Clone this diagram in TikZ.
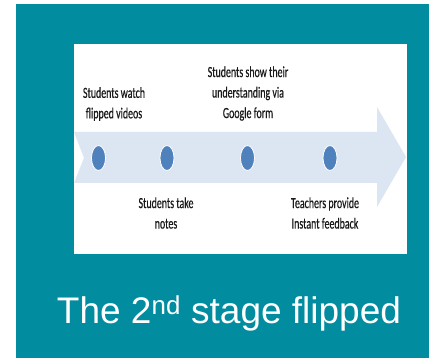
\documentclass[tikz,border=0pt]{standalone}
\usepackage{fontspec}
\setmainfont{Liberation Sans}
\newfontfamily\calibfont[FakeStretch=0.64,FakeBold=0.4]{Carlito}
\usetikzlibrary{shapes.geometric}
\definecolor{tealbg}{RGB}{2,140,160}
\definecolor{arrowbg}{RGB}{220,230,242}
\definecolor{dotblue}{RGB}{79,129,189}

\begin{document}
\begin{tikzpicture}[x=1pt,y=-1pt,
    steptext/.style={align=center,inner sep=0pt,text=black!90,
        font=\calibfont\fontsize{15.5}{20.5}\selectfont},
    stopdot/.style={ellipse,fill=dotblue,draw=white,line width=0.8pt,
        minimum width=14pt,minimum height=25pt,inner sep=0pt}
]
    \useasboundingbox (0,0) rectangle (429,358);
    \fill[tealbg] (16,4) rectangle (429,358);
    \fill[white] (74,44) rectangle (407,254);
    % timeline arrow
    \fill[arrowbg] (74,132) -- (377,132) -- (377,107) -- (406,157)
        -- (377,207) -- (377,183) -- (74,183) -- (84,158) -- cycle;
    \node[stopdot] (watch) at (98.5,158) {};
    \node[stopdot] (notes) at (167,158) {};
    \node[stopdot] (form) at (247.5,158) {};
    \node[stopdot] (feedback) at (330,158) {};
    \node[steptext] (watchtxt) at (114,104) {Students watch\\flipped videos};
    \node[steptext] (formtxt) at (248,93.5) {Students show their\\understanding via\\Google form};
    \node[steptext] (notestxt) at (166,213) {Students take\\notes};
    \node[steptext] (feedbacktxt) at (325,213) {Teachers provide\\Instant feedback};
    \node[text=white,font=\fontsize{37}{40}\selectfont,inner sep=0pt] (title)
        at (229,313) {The 2\textsuperscript{nd} stage flipped};
\end{tikzpicture}
\end{document}
